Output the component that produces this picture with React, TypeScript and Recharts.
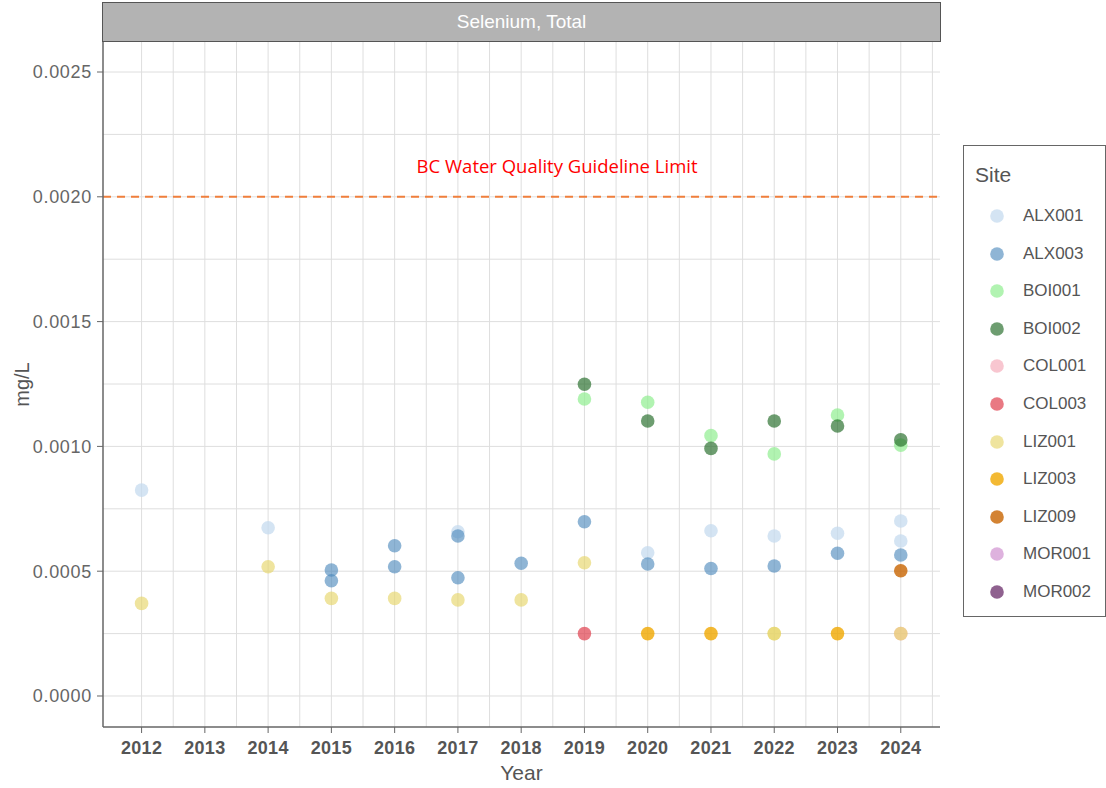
import React from 'react';
import {
  ScatterChart,
  Scatter,
  XAxis,
  YAxis,
  CartesianGrid,
  ReferenceLine,
} from 'recharts';

// ---------- data ----------
const years = [2012, 2013, 2014, 2015, 2016, 2017, 2018, 2019, 2020, 2021, 2022, 2023, 2024];
const yTicks = [0, 0.0005, 0.001, 0.0015, 0.002, 0.0025];
const yGrid = [0, 0.00025, 0.0005, 0.00075, 0.001, 0.00125, 0.0015, 0.00175, 0.002, 0.00225, 0.0025];
const xGrid = [2012, 2012.5, 2013, 2013.5, 2014, 2014.5, 2015, 2015.5, 2016, 2016.5, 2017, 2017.5, 2018, 2018.5, 2019, 2019.5, 2020, 2020.5, 2021, 2021.5, 2022, 2022.5, 2023, 2023.5, 2024, 2024.5];
const guideline = 0.002;

const ALX001 = [
  { year: 2012, value: 0.000825 },
  { year: 2014, value: 0.000674 },
  { year: 2017, value: 0.000658 },
  { year: 2020, value: 0.000574 },
  { year: 2021, value: 0.000662 },
  { year: 2022, value: 0.000641 },
  { year: 2023, value: 0.000652 },
  { year: 2024, value: 0.000701 },
  { year: 2024, value: 0.000621 },
];
const ALX003 = [
  { year: 2015, value: 0.000505 },
  { year: 2015, value: 0.000462 },
  { year: 2016, value: 0.000602 },
  { year: 2016, value: 0.000518 },
  { year: 2017, value: 0.000641 },
  { year: 2017, value: 0.000474 },
  { year: 2018, value: 0.000532 },
  { year: 2019, value: 0.000698 },
  { year: 2020, value: 0.000529 },
  { year: 2021, value: 0.000511 },
  { year: 2022, value: 0.000521 },
  { year: 2023, value: 0.000572 },
  { year: 2024, value: 0.000565 },
];
const BOI001 = [
  { year: 2019, value: 0.00119 },
  { year: 2020, value: 0.001177 },
  { year: 2021, value: 0.001043 },
  { year: 2022, value: 0.00097 },
  { year: 2023, value: 0.001126 },
  { year: 2024, value: 0.001005 },
];
const BOI002 = [
  { year: 2019, value: 0.001249 },
  { year: 2020, value: 0.001102 },
  { year: 2021, value: 0.000992 },
  { year: 2022, value: 0.001102 },
  { year: 2023, value: 0.001082 },
  { year: 2024, value: 0.001026 },
];
const COL001 = [{ year: 2024, value: 0.00025 }];
const COL003 = [{ year: 2019, value: 0.00025 }];
const LIZ001 = [
  { year: 2012, value: 0.000371 },
  { year: 2014, value: 0.000518 },
  { year: 2015, value: 0.000391 },
  { year: 2016, value: 0.000391 },
  { year: 2017, value: 0.000385 },
  { year: 2018, value: 0.000385 },
  { year: 2019, value: 0.000534 },
  { year: 2022, value: 0.00025 },
  { year: 2022, value: 0.00025 },
  { year: 2024, value: 0.00025 },
];
const LIZ003 = [
  { year: 2020, value: 0.00025 },
  { year: 2021, value: 0.00025 },
  { year: 2023, value: 0.00025 },
];
const LIZ009 = [{ year: 2024, value: 0.000502 }];
const MOR001: { year: number; value: number }[] = [];
const MOR002: { year: number; value: number }[] = [];

const sites = [
  { name: 'ALX001', data: ALX001, color: '#c6dbef', alpha: 0.75 },
  { name: 'ALX003', data: ALX003, color: '#4a88bc', alpha: 0.62 },
  { name: 'BOI001', data: BOI001, color: '#90ee90', alpha: 0.7 },
  { name: 'BOI002', data: BOI002, color: '#216a26', alpha: 0.66 },
  { name: 'COL001', data: COL001, color: '#f4a0b0', alpha: 0.6 },
  { name: 'COL003', data: COL003, color: '#e0404f', alpha: 0.7 },
  { name: 'LIZ001', data: LIZ001, color: '#e6d56a', alpha: 0.65 },
  { name: 'LIZ003', data: LIZ003, color: '#f0a800', alpha: 0.8 },
  { name: 'LIZ009', data: LIZ009, color: '#c86400', alpha: 0.8 },
  { name: 'MOR001', data: MOR001, color: '#cc88cc', alpha: 0.65 },
  { name: 'MOR002', data: MOR002, color: '#6a2c6a', alpha: 0.75 },
];

const FONT = '"Liberation Sans", Arial, sans-serif';

const Dot = (props: any) => {
  const { cx, cy, fill, fillOpacity } = props;
  if (cx == null || cy == null) return null;
  return <circle cx={cx} cy={cy} r={6.8} fill={fill} fillOpacity={fillOpacity} stroke="none" />;
};

const XTick = (props: any) => {
  const { x, y, payload } = props;
  return (
    <text x={x} y={y} dy="0.71em" textAnchor="middle" fontFamily={FONT} fontSize={18} fontWeight="bold" fill="#555" letterSpacing={0.3}>
      {payload.value}
    </text>
  );
};

const GuideLabel = (props: any) => {
  const vb = props.viewBox || {};
  return (
    <text x={vb.x + vb.width * 0.5425} y={vb.y - 24} textAnchor="middle" fontFamily='"Open Sans", sans-serif' fontSize={18.5} fill="#ff0000">
      BC Water Quality Guideline Limit
    </text>
  );
};

const YLabel = (props: any) => {
  const vb = props.viewBox || {};
  const cx = vb.x + 22;
  const cy = vb.y + vb.height / 2;
  return (
    <text x={cx} y={cy} transform={`rotate(-90, ${cx}, ${cy})`} textAnchor="middle" dy="0.35em" fontFamily={FONT} fontSize={20} fill="#555">
      mg/L
    </text>
  );
};

const XLabel = (props: any) => {
  const vb = props.viewBox || {};
  return (
    <text x={vb.x + vb.width / 2} y={vb.y + 53} textAnchor="middle" fontFamily={FONT} fontSize={21} fill="#555">
      Year
    </text>
  );
};

export default function App() {
  return (
    <div style={{ position: 'absolute', left: 0, top: 0, width: 1106, height: 788, background: '#fff' }}>
      <ScatterChart width={1106} height={788} margin={{ top: 42, right: 166, bottom: 0, left: 0 }}>
        <CartesianGrid stroke="#dedede" strokeWidth={1} horizontalValues={yGrid} verticalValues={xGrid} />
        <XAxis
          type="number"
          dataKey="year"
          domain={[2011.39, 2024.62]}
          ticks={years}
          allowDataOverflow
          interval={0}
          height={61}
          tickSize={6}
          tickMargin={8}
          tick={<XTick />}
          axisLine={{ stroke: '#666', strokeWidth: 1.5 }}
          tickLine={{ stroke: '#666' }}
          label={<XLabel />}
        />
        <YAxis
          type="number"
          dataKey="value"
          domain={[-0.0001242, 0.0026202]}
          ticks={yTicks}
          allowDataOverflow
          interval={0}
          width={103}
          tickSize={6}
          tickMargin={5}
          tickFormatter={(v: number) => v.toFixed(4)}
          tick={{ fontFamily: FONT, fontSize: 18, fill: '#666', letterSpacing: 0.7 }}
          axisLine={{ stroke: '#666', strokeWidth: 1.5 }}
          tickLine={{ stroke: '#666' }}
          label={<YLabel />}
        />
        <ReferenceLine y={guideline} stroke="#f07f3c" strokeWidth={2} strokeDasharray="8 6" label={<GuideLabel />} />
        {sites.map((s) => (
          <Scatter
            key={s.name}
            name={s.name}
            data={s.data}
            fill={s.color}
            fillOpacity={s.alpha}
            shape={<Dot />}
            isAnimationActive={false}
          />
        ))}
      </ScatterChart>

      {/* facet strip */}
      <div
        style={{
          position: 'absolute',
          left: 102,
          top: 2,
          width: 837,
          height: 38,
          background: '#b3b3b3',
          border: '1px solid #555',
          color: '#fff',
          fontFamily: FONT,
          fontSize: 19,
          lineHeight: '38px',
          textAlign: 'center',
        }}
      >
        Selenium, Total
      </div>

      {/* legend */}
      <div
        style={{
          position: 'absolute',
          left: 963,
          top: 145,
          width: 141,
          height: 470,
          border: '1px solid #666',
          background: '#fff',
          fontFamily: FONT,
        }}
      >
        <div style={{ position: 'absolute', left: 11, top: 17, fontSize: 21, color: '#555', lineHeight: '24px' }}>Site</div>
        {sites.map((s, i) => (
          <div
            key={s.name}
            style={{ position: 'absolute', left: 0, top: 70 + i * 37.6 - 12, height: 24, width: 141 }}
          >
            <svg width={20} height={20} style={{ position: 'absolute', left: 23, top: 2 }}>
              <circle cx={10} cy={10} r={6.8} fill={s.color} fillOpacity={s.alpha} />
            </svg>
            <span style={{ position: 'absolute', left: 59, top: 0, fontSize: 17, lineHeight: '24px', color: '#555' }}>{s.name}</span>
          </div>
        ))}
      </div>
    </div>
  );
}
